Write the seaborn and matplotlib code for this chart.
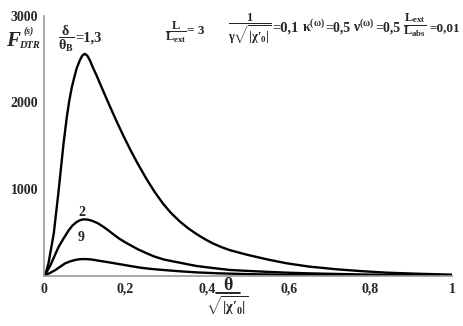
import matplotlib
matplotlib.use("Agg")
import matplotlib.pyplot as plt
from matplotlib.lines import Line2D
import seaborn as sns
import pandas as pd

# ---- data ----
x_13 = [0, 0.005, 0.011, 0.024, 0.036, 0.048, 0.056, 0.062, 0.068, 0.074, 0.08, 0.088, 0.094,
        0.1, 0.106, 0.113, 0.12, 0.128, 0.137, 0.148, 0.16, 0.179, 0.195, 0.212, 0.23, 0.252,
        0.27, 0.292, 0.31, 0.333, 0.354, 0.374, 0.395, 0.415, 0.436, 0.456, 0.5, 0.55, 0.595,
        0.65, 0.717, 0.78, 0.84, 0.92, 1.0]
y_13 = [0, 40, 143, 489, 988, 1530, 1834, 2020, 2170, 2285, 2392, 2488, 2540,
        2560, 2540, 2480, 2400, 2320, 2220, 2100, 1970, 1770, 1610, 1450, 1290, 1110,
        975, 830, 730, 625, 545, 480, 420, 370, 328, 294, 239, 185, 143,
        105, 74, 52, 35, 22, 12]

x_2 = [0, 0.008, 0.016, 0.026, 0.036, 0.048, 0.061, 0.07, 0.08, 0.089, 0.097, 0.106, 0.115,
       0.124, 0.134, 0.15, 0.167, 0.183, 0.199, 0.211, 0.23, 0.252, 0.27, 0.292, 0.313, 0.333,
       0.354, 0.374, 0.415, 0.456, 0.5, 0.55, 0.595, 0.65, 0.717, 0.78, 0.84, 0.92, 1.0]
y_2 = [0, 55, 123, 230, 334, 430, 527, 580, 620, 642, 650, 648, 638,
       622, 600, 550, 489, 432, 385, 354, 305, 258, 222, 189, 168, 150,
       130, 112, 88, 66, 55, 44, 35, 27, 20, 14, 10, 7, 5]

x_9 = [0, 0.014, 0.028, 0.04, 0.052, 0.064, 0.075, 0.084, 0.093, 0.104, 0.115, 0.124, 0.134,
       0.158, 0.183, 0.211, 0.24, 0.265, 0.292, 0.33, 0.374, 0.43, 0.5, 0.6, 0.7, 0.8, 0.9, 1.0]
y_9 = [0, 30, 66, 105, 143, 165, 180, 188, 192, 191, 188, 181, 173,
       155, 135, 112, 90, 77, 66, 52, 38, 27, 18, 10, 7, 5, 3, 2]

ratio_labels = ["1,3", "2", "9"]
x_ticks = [0, 0.2, 0.4, 0.6, 0.8, 1.0]
x_tick_labels = ["0", "0,2", "0,4", "0,6", "0,8", "1"]
y_ticks = [1000, 2000, 3000]
y_tick_labels = ["1000", "2000", "3000"]

df = pd.concat([
    pd.DataFrame({"x": x_13, "y": y_13, "ratio": ratio_labels[0]}),
    pd.DataFrame({"x": x_2, "y": y_2, "ratio": ratio_labels[1]}),
    pd.DataFrame({"x": x_9, "y": y_9, "ratio": ratio_labels[2]}),
])

sns.set_theme(style="white")
plt.rcParams["font.family"] = ["Liberation Serif", "DejaVu Serif"]
plt.rcParams["font.weight"] = "bold"
plt.rcParams["mathtext.fontset"] = "custom"
plt.rcParams["mathtext.rm"] = "Liberation Serif:bold"
plt.rcParams["mathtext.bf"] = "Liberation Serif:bold"
plt.rcParams["mathtext.it"] = "Liberation Serif:bold"
plt.rcParams["mathtext.sf"] = "Liberation Serif:bold"

fig = plt.figure(figsize=(4.64, 3.26), dpi=100)
ax = fig.add_axes([44 / 464, 50.3 / 326, 408 / 464, 260 / 326])

sns.lineplot(data=df, x="x", y="y", hue="ratio", palette=["black"] * 3,
             estimator=None, legend=False, linewidth=1.7, ax=ax)

ax.set_xlim(0, 1)
ax.set_ylim(0, 3000)
ax.set_xlabel("")
ax.set_ylabel("")
for s in ["top", "right"]:
    ax.spines[s].set_visible(False)
for s in ["left", "bottom"]:
    ax.spines[s].set_color("#999999")
    ax.spines[s].set_linewidth(1.2)

ax.set_xticks(x_ticks)
ax.set_xticklabels(x_tick_labels, fontsize=10, fontweight="bold")
ax.set_yticks(y_ticks)
ax.set_yticklabels(y_tick_labels, fontsize=10, fontweight="bold")
ax.tick_params(axis="both", direction="out", length=3, width=1, color="#777777", pad=1)
ax.tick_params(axis="x", pad=2)

# curve labels
ax.text(0.093, 735, "2", fontsize=10, fontweight="bold", ha="center", va="center")
ax.text(0.09, 440, "9", fontsize=10, fontweight="bold", ha="center", va="center")

def ft(x, y, s, size=10, ha="center", **kw):
    fig.text(x / 464, 1 - y / 326, s, fontsize=size, ha=ha, va="center", **kw)

# top annotations
ft(66, 39, r"$\dfrac{\delta}{\theta_{\mathrm{B}}}$", size=10)
ft(75, 38, "=1,3", size=10.5, ha="left")
ft(176, 32, r"$\dfrac{\mathrm{L}}{\mathrm{L_{ext}}}$", size=9)
ft(187, 31, "= 3", size=9.5, ha="left")
ft(250, 29, r"$\dfrac{1}{\gamma\sqrt{|\chi\prime_{0}|}}$", size=9)
ft(272, 28, "=0,1", size=10.5, ha="left")
ft(302, 27, r"$\mathrm{\kappa^{(\omega)}}$", size=10, ha="left")
ft(325, 28, "=0,5", size=10, ha="left")
ft(353, 27, r"$\mathrm{\nu^{(\omega)}}$", size=10, ha="left")
ft(375, 28, "=0,5", size=10, ha="left")
ft(415, 25, r"$\dfrac{\mathrm{L_{ext}}}{\mathrm{L_{abs}}}$", size=9)
ft(429, 28, "=0,01", size=9.5, ha="left")

# y label
fig.text(6 / 464, 1 - 46 / 326, "F", fontsize=15, style="italic", fontweight="bold", va="baseline")
fig.text(19 / 464, 1 - 48 / 326, "DTR", fontsize=7.5, style="italic", fontweight="bold", va="baseline")
fig.text(24 / 464, 1 - 34 / 326, "(s)", fontsize=7, style="italic", fontweight="bold", va="baseline")

# x label: theta over sqrt|chi'_0|
ft(228, 285, r"$\theta$", size=13)
fig.add_artist(Line2D([216 / 464, 240 / 464], [1 - 292.5 / 326, 1 - 292.5 / 326],
                      color="black", linewidth=1.2))
ft(227, 306, r"$\sqrt{|\chi\prime_{0}|}$", size=10.5)

fig.savefig("out.png", dpi=100)
